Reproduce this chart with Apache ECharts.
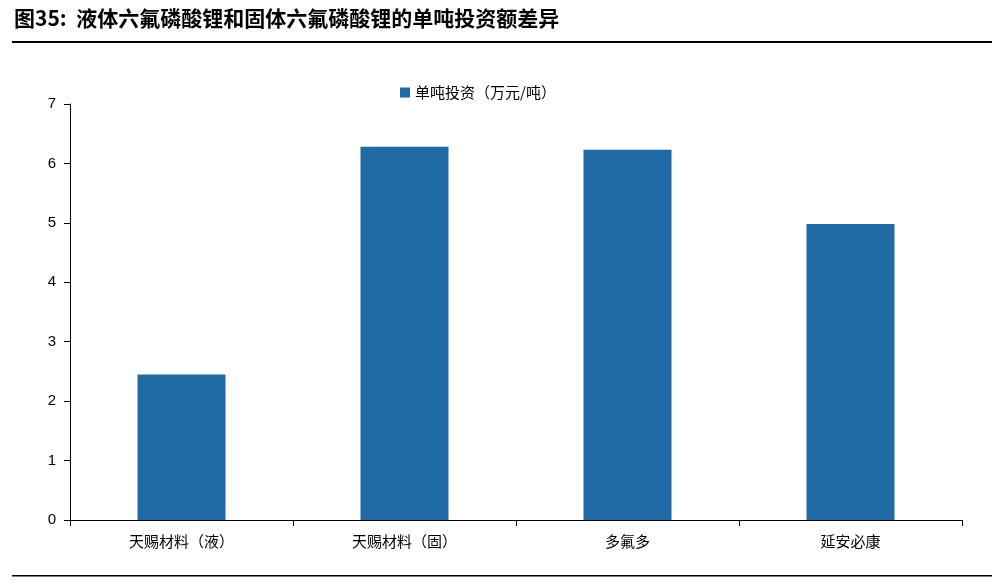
<!DOCTYPE html>
<html>
<head>
<meta charset="utf-8">
<title>单吨投资额差异</title>
<style>
html,body{margin:0;padding:0;background:#fff;}
#chart{width:1003px;height:583px;}
</style>
</head>
<body>
<div id="chart"></div>
<script src="https://cdn.jsdelivr.net/npm/echarts@6/dist/echarts.min.js"></script>
<script>
var categories = ['天赐材料（液）', '天赐材料（固）', '多氟多', '延安必康'];
var investValues = [2.45, 6.28, 6.23, 4.98];
var yTicks = [0, 1, 2, 3, 4, 5, 6, 7];

var app = echarts.init(document.getElementById('chart'));
var font = '"Noto Sans CJK SC", sans-serif';

var option = {
    animation: false,
    graphic: [
        { type: 'text', left: 14, top: 8, style: { text: '图35:  液体六氟磷酸锂和固体六氟磷酸锂的单吨投资额差异', font: 'bold 21px ' + font, fill: '#000' } },
        { type: 'rect', shape: { x: 12, y: 41, width: 980, height: 2 }, style: { fill: '#000' } },
        { type: 'rect', shape: { x: 12, y: 575, width: 980, height: 1.5 }, style: { fill: '#000' } }
    ],
    legend: {
        top: 80,
        left: 395,
        itemWidth: 10,
        itemHeight: 10,
        icon: 'rect',
        textStyle: { fontFamily: font, fontSize: 15, color: '#000' },
        data: ['单吨投资（万元/吨）']
    },
    grid: { left: 70, right: 41, top: 104, bottom: 63 },
    xAxis: {
        type: 'category',
        data: categories,
        axisLine: { lineStyle: { color: '#000' } },
        axisTick: { show: true, inside: false, length: 6, lineStyle: { color: '#000' } },
        axisLabel: { fontFamily: font, fontSize: 15, color: '#000', margin: 14 }
    },
    yAxis: {
        type: 'value',
        min: yTicks[0],
        max: yTicks[yTicks.length - 1],
        interval: 1,
        axisLine: { show: true, lineStyle: { color: '#000' } },
        axisTick: { show: true, length: 6, lineStyle: { color: '#000' } },
        splitLine: { show: false },
        axisLabel: { fontFamily: 'Arial, "Liberation Sans", sans-serif', fontSize: 15, color: '#000', margin: 14 }
    },
    series: [{
        name: '单吨投资（万元/吨）',
        type: 'bar',
        barWidth: 88,
        itemStyle: { color: '#1F6AA5' },
        data: investValues
    }]
};
app.setOption(option);
</script>
</body>
</html>
